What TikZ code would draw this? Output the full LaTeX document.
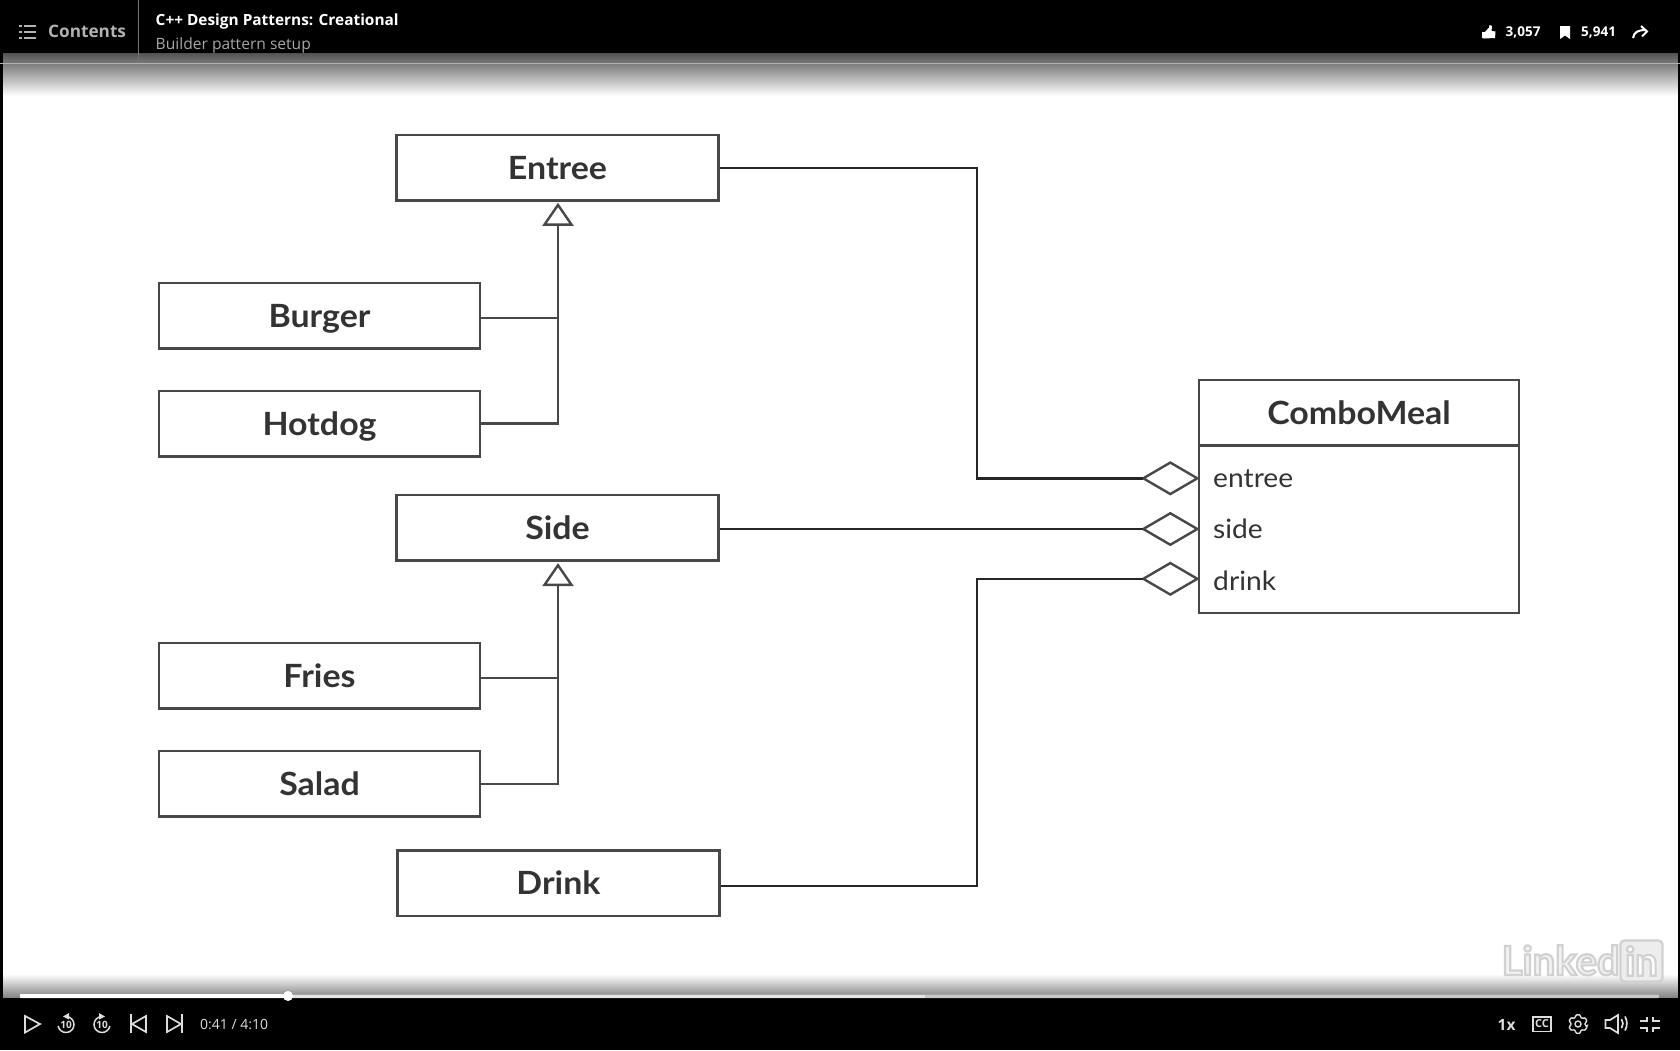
\documentclass[tikz,border=0pt]{standalone}
\usepackage{fontspec}
\usetikzlibrary{shapes.geometric,arrows.meta,calc}
\setmainfont{Lato}
\newfontfamily\uifont{Open Sans}
\newfontfamily\markfont{Lato}
\newfontfamily\diagfont[FakeStretch=1.06]{Lato}
\definecolor{ink}{HTML}{484848}
\definecolor{txt}{HTML}{333333}
\definecolor{wire}{HTML}{262626}
\definecolor{chrome}{HTML}{DDDDDD}
\tikzset{
  umlbox/.style={draw=ink,line width=2.4pt,fill=white,outer sep=0pt,inner sep=0pt,
    minimum width=322pt,minimum height=65.6pt,text=txt,text height=23pt,text depth=0pt,
    font=\diagfont\fontsize{32}{36}\selectfont\bfseries},
  attr/.style={anchor=base west,inner sep=0pt,text=txt,font=\diagfont\fontsize{26.6}{32}\selectfont},
  agg/.style={diamond,draw=ink,line width=2.4pt,fill=white,outer sep=0pt,inner sep=0pt,
    minimum width=54pt,minimum height=31.5pt,shape aspect=1.7},
  wirel/.style={draw=wire,line width=2.4pt},
  inh/.style={draw=ink,line width=2.4pt},
  hollow/.style={-{Triangle[open,fill=white,length=23pt,width=31pt,line width=2.4pt]},shorten >=2.5pt},
  ui/.style={inner sep=0pt,font=\uifont\fontsize{15}{18}\selectfont,text=chrome},
  icon/.style={draw=chrome,line width=1.7pt,line join=miter},
}
\begin{document}
\begin{tikzpicture}[x=1pt,y=-1pt]
\useasboundingbox (0,0) rectangle (1680,1050);
\fill[white] (0,0) rectangle (1680,1050);

% gradients and frame
\shade[top color=black!68,bottom color=white] (0,53) rectangle (1680,96);
\shade[top color=white,bottom color=black!50] (0,974) rectangle (1680,998);
\fill[black] (0,0) rectangle (1680,53);
\fill[black] (0,998) rectangle (1680,1050);
\fill[black] (0,53) rectangle (2.6,998);
\fill[black] (1678,53) rectangle (1680,998);
\draw[white!70!black,line width=0.8pt] (0,63.3) -- (1680,63.3);
\draw[white!45!black,line width=0.8pt] (138.5,0) -- (138.5,63.3);

% diagram boxes
\node[umlbox] (entree) at (557.5,167.5) {Entree};
\node[umlbox,minimum width=321.5pt] (burger) at (319.5,315.5) {Burger};
\node[umlbox,minimum width=321.5pt] (hotdog) at (319.5,423.5) {Hotdog};
\node[umlbox] (side) at (557.5,527.8) {Side};
\node[umlbox,minimum width=321.5pt] (fries) at (319.5,675.5) {Fries};
\node[umlbox,minimum width=321.5pt] (salad) at (319.5,783.7) {Salad};
\node[umlbox] (drink) at (558.5,883.3) {Drink};

% ComboMeal
\node[umlbox,minimum width=319.5pt,minimum height=65.3pt] (combohead) at (1359,412.7) {ComboMeal};
\node[umlbox,minimum width=319.5pt,minimum height=167.4pt] (combobody) at (1359,529) {};
\node[attr] (aentree) at (1213,487) {entree};
\node[attr] (aside) at (1213,538) {side};
\node[attr] (adrink) at (1213,590) {drink};

\node[agg] (dentree) at (1170.3,478.3) {};
\node[agg] (dside) at (1170.3,529) {};
\node[agg] (ddrink) at (1170.3,578.8) {};

\coordinate (upper) at (977,168.2);
\coordinate (lower) at (977,886);
\coordinate (spine) at (558,300);
\coordinate (spinetwo) at (558,650);
\coordinate (burgerline) at (400,317.7);
\coordinate (friesline) at (400,677.7);

% inheritance
\draw[inh,hollow] (hotdog.east) -| (spine |- entree.south);
\draw[inh] (burger.east |- burgerline) -- (spine |- burgerline);
\draw[inh,hollow] (salad.east) -| (spinetwo |- side.south);
\draw[inh] (fries.east |- friesline) -- (spinetwo |- friesline);

% aggregation
\draw[wirel] ([xshift=1.5pt]entree.east |- upper) -- (upper) |- (dentree.west);
\draw[wirel] ([xshift=1.5pt]side.east |- dside.west) -- (dside.west);
\draw[wirel] ([xshift=1.5pt]drink.east |- lower) -- (lower) |- (ddrink.west);

% watermark
\node[inner sep=0pt,anchor=base west,text=white!95!black,font=\markfont\fontsize{40}{44}\selectfont\bfseries] (wmtext) at (1501.5,975) {\special{pdf:code q 2 Tr 2.2 w 0.82 G}Linked\special{pdf:code Q}};
\node[draw=black!18,fill=white!93!black,line width=2.4pt,rounded corners=4pt,minimum width=42pt,minimum height=41pt,inner sep=0pt,text=white,font=\markfont\fontsize{40}{44}\selectfont\bfseries] (wmbox) at (1641.5,961) {\special{pdf:code q 2 Tr 2.2 w 0.82 G}in\special{pdf:code Q}};

% progress bar
\fill[black!22,rounded corners=1pt] (20,994.5) rectangle (1659,998);
\fill[black!10] (20,994.5) rectangle (925,998);
\fill[white] (20,994) rectangle (288,998);
\fill[white] (288,996) circle (5);

% top bar
\foreach \yy in {25.5,31.5,37.5}{
  \fill[black!30] (19,\yy-1) rectangle (21.5,\yy+1);
  \fill[black!30] (24,\yy-1) rectangle (36,\yy+1);
}
\node[ui,anchor=base west,text=black!30,font=\uifont\fontsize{17.2}{20}\selectfont\bfseries] (contents) at (48,37.5) {Contents};
\node[ui,anchor=base west,text=white,font=\uifont\fontsize{15.4}{18}\selectfont\bfseries] (title) at (155.5,25) {C++ Design Patterns: Creational};
\node[ui,anchor=base west,text=black!35,font=\uifont\fontsize{15.6}{18}\selectfont] (subtitle) at (155.5,49.5) {Builder pattern setup};
% thumb
\fill[white] (1482,32) -- (1485,32) -- (1489,27.5) -- (1489.5,25) -- (1492,26) -- (1491.5,31) -- (1495.5,31.5) -- (1495,38) -- (1484,38.5) -- (1482,38) -- cycle;
\node[ui,anchor=base west,text=white,font=\uifont\fontsize{13.5}{16}\selectfont\bfseries] (likes) at (1505.5,36.5) {3,057};
% bookmark
\fill[white] (1560,26) -- (1570,26) -- (1570,39) -- (1565,35.5) -- (1560,39) -- cycle;
\node[ui,anchor=base west,text=white,font=\uifont\fontsize{13.5}{16}\selectfont\bfseries] (saves) at (1581,36) {5,941};
% share
\draw[white,line width=2pt,line join=miter] (1633,38) .. controls (1634,32) and (1638,30) .. (1646,30);
\draw[white,line width=2pt] (1641,26) -- (1647,31.5) -- (1642,36.5);

% bottom left controls
\draw[icon] (25,1016) -- (40,1024) -- (25,1032.5) -- cycle;
\begin{scope}[shift={(66,1024.5)}]
  \draw[icon,line width=1.5pt] (0,-8) arc[start angle=270,end angle=530,radius=8];
  \fill[chrome] (3,-11.5) -- (-3,-8) -- (3,-5) -- cycle;
\end{scope}
\node[ui,text=chrome,font=\uifont\fontsize{10}{10}\selectfont\bfseries] (rw) at (66,1025) {10};
\begin{scope}[shift={(102,1024.5)},xscale=-1]
  \draw[icon,line width=1.5pt] (0,-8) arc[start angle=270,end angle=530,radius=8];
  \fill[chrome] (3,-11.5) -- (-3,-8) -- (3,-5) -- cycle;
\end{scope}
\node[ui,text=chrome,font=\uifont\fontsize{10}{10}\selectfont\bfseries] (ff) at (102,1025) {10};
\draw[icon] (131,1014) -- (131,1033);
\draw[icon] (146,1016) -- (132,1024) -- (146,1032) -- cycle;
\draw[icon] (182,1014) -- (182,1033);
\draw[icon] (167,1016) -- (181,1024) -- (167,1032) -- cycle;
\node[ui,anchor=base west,font=\uifont\fontsize{14}{16}\selectfont] (time) at (200,1029) {0:41 / 4:10};

% bottom right controls
\node[ui,anchor=base west,font=\uifont\fontsize{15.5}{18}\selectfont\bfseries] (speed) at (1497.5,1030) {1x};
\draw[draw=chrome,line width=1.7pt] (1533,1017) rectangle (1551,1031.5);
\node[ui,font=\uifont\fontsize{11}{10}\selectfont\bfseries] (cc) at (1542,1024) {CC};
\begin{scope}[shift={(1578,1024)}]
  \draw[icon,line width=1.4pt,rounded corners=1pt]
    (16:9.5) \foreach \a in {30,90,150,210,270,330}{ -- (\a-14:9.5) -- (\a+14:9.5) -- (\a+18:7.3) -- (\a+42:7.3) } -- cycle;
  \draw[icon,line width=1.4pt] (0,0) circle (3);
\end{scope}
\draw[icon] (1605.5,1020) -- (1610,1020) -- (1618,1015) -- (1618,1033) -- (1610,1028) -- (1605.5,1028) -- cycle;
\draw[icon] (1621.5,1019) arc[start angle=-35,end angle=35,radius=8];
\draw[icon] (1625,1016.5) arc[start angle=-30,end angle=30,radius=14];
\draw[icon] (1640,1021) -- (1647,1021) -- (1647,1016.5);
\draw[icon] (1660,1021) -- (1653,1021) -- (1653,1016.5);
\draw[icon] (1640,1028) -- (1647,1028) -- (1647,1032);
\draw[icon] (1660,1028) -- (1653,1028) -- (1653,1032);
\end{tikzpicture}
\end{document}
